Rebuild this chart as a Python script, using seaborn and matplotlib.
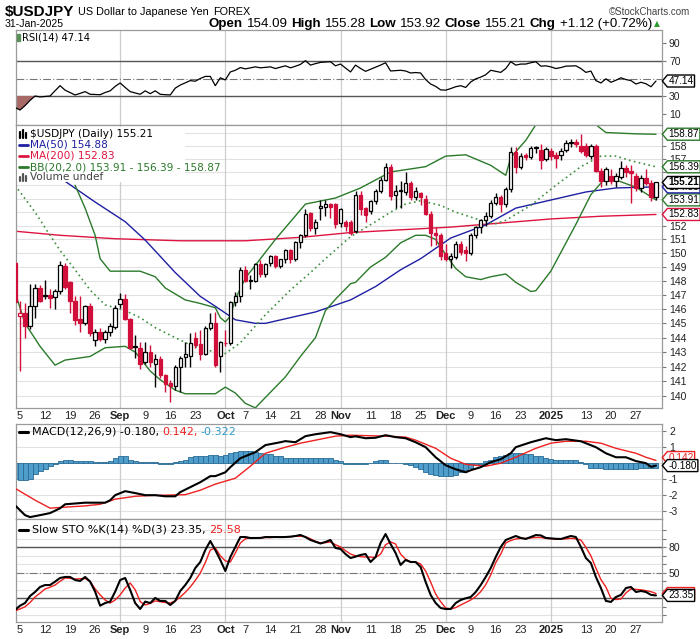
import numpy as np
import pandas as pd
import matplotlib
matplotlib.use("Agg")
import matplotlib.pyplot as plt
from matplotlib.path import Path
from matplotlib.lines import Line2D
from matplotlib.patches import Rectangle
from matplotlib.ticker import FixedLocator, NullLocator
from matplotlib import font_manager as fm
import seaborn as sns

# ---------------------------------------------------------------- data
open_ = [149.3, 145.5, 145.7, 144.8, 146.2, 147.5, 146.9, 147.0, 146.85, 147.25,
         149.1, 147.9, 146.6, 145.3, 145.0, 146.2, 143.85, 144.4, 143.9, 144.4,
         144.75, 146.35, 146.7, 145.3, 143.35, 143.3, 142.35, 143.0, 142.2, 142.5,
         141.4, 140.85, 140.7, 142.0, 142.65, 142.75, 143.95, 143.55, 142.9, 144.7,
         145.0, 142.75, 143.65, 143.6, 146.5, 146.9, 148.8, 148.0, 148.0, 149.2,
         148.5, 149.3, 149.8, 149.1, 149.55, 150.2, 149.55, 150.8, 151.3, 152.95,
         151.8, 153.3, 153.35, 153.6, 153.6, 152.2, 152.3, 152.3, 151.6, 154.3,
         153.3, 153.1, 153.8, 154.6, 155.4, 156.4, 154.3, 154.6, 154.5, 155.2,
         154.1, 154.4, 154.0, 152.9, 151.5, 151.3, 150.0, 149.6, 149.7, 150.7,
         150.2, 150.0, 151.3, 151.9, 152.4, 152.7, 153.7, 154.1, 153.6, 154.7,
         157.5, 156.4, 157.3, 157.1, 157.8, 157.7, 156.95, 157.6, 157.3, 157.3,
         157.7, 158.2, 158.3, 158.0, 158.0, 157.2, 158.0, 156.1, 155.3, 155.7,
         155.3, 155.6, 156.3, 156.05, 155.7, 154.8, 155.55, 155.2, 154.09]
high = [149.5, 146.6, 146.4, 147.8, 147.8, 147.7, 148.1, 147.4, 147.4, 149.4,
        149.3, 148.0, 146.9, 146.9, 146.3, 146.45, 144.6, 144.7, 144.5, 145.0,
        146.3, 147.15, 147.1, 145.4, 144.2, 143.7, 143.7, 143.5, 142.9, 142.7,
        141.5, 141.1, 142.1, 142.7, 143.7, 144.35, 144.4, 144.5, 144.8, 145.7,
        145.8, 143.8, 144.5, 146.6, 147.2, 149.0, 149.1, 148.4, 149.3, 149.5,
        149.3, 149.9, 149.9, 149.6, 150.3, 150.3, 150.9, 151.4, 153.2, 153.0,
        152.5, 153.9, 153.9, 153.7, 153.7, 153.3, 152.4, 152.4, 154.6, 154.6,
        153.4, 153.9, 154.7, 155.6, 156.7, 156.6, 155.0, 155.3, 156.0, 155.3,
        154.9, 154.5, 154.3, 153.1, 151.9, 151.5, 150.7, 150.0, 150.9, 150.9,
        150.5, 151.5, 152.0, 152.5, 153.0, 153.9, 154.4, 154.3, 154.9, 157.9,
        157.9, 157.4, 157.4, 158.0, 158.0, 158.1, 157.9, 157.8, 157.5, 157.8,
        158.4, 158.5, 158.5, 158.9, 158.2, 158.1, 158.1, 156.3, 156.4, 156.2,
        155.9, 156.8, 156.5, 156.5, 155.9, 155.8, 156.2, 155.4, 155.28]
low = [146.4, 141.7, 144.0, 144.6, 145.4, 146.5, 146.7, 146.1, 146.0, 147.1,
       147.4, 145.7, 144.9, 144.4, 144.9, 144.1, 143.4, 143.8, 143.6, 144.1,
       144.6, 146.1, 145.2, 143.2, 142.6, 141.85, 142.2, 142.0, 140.6, 141.2,
       140.3, 139.6, 140.4, 140.3, 142.0, 142.0, 143.3, 142.45, 142.8, 144.5,
       142.0, 141.6, 143.4, 143.5, 146.2, 146.5, 147.9, 147.4, 147.9, 148.3,
       148.3, 149.1, 148.9, 148.9, 149.3, 149.3, 149.4, 150.4, 151.2, 151.6,
       151.4, 152.4, 152.7, 152.6, 151.8, 151.9, 151.6, 151.3, 151.5, 152.8,
       152.3, 152.9, 153.6, 154.4, 155.3, 153.9, 153.3, 153.3, 154.3, 153.9,
       153.9, 153.5, 152.8, 150.5, 150.6, 149.5, 149.4, 148.9, 149.6, 149.9,
       149.4, 149.9, 151.1, 151.5, 152.0, 152.6, 153.5, 153.0, 153.4, 154.5,
       155.9, 156.2, 156.9, 157.0, 157.4, 156.2, 156.8, 156.9, 156.3, 156.9,
       157.5, 157.9, 157.9, 157.4, 157.1, 157.0, 156.0, 154.9, 155.0, 155.1,
       154.9, 155.5, 155.6, 153.7, 154.6, 154.5, 155.0, 153.8, 153.92]
close = [146.5, 145.75, 144.8, 146.2, 147.5, 146.6, 147.0, 146.8, 147.25, 149.15,
         147.6, 146.6, 145.25, 145.05, 146.2, 144.3, 144.4, 143.9, 144.4, 144.8,
         146.05, 146.75, 145.3, 143.3, 143.4, 142.2, 143.0, 142.3, 142.5, 141.4,
         140.8, 140.65, 142.0, 142.6, 142.85, 143.65, 143.5, 142.9, 144.7, 145.0,
         142.1, 143.7, 143.6, 146.5, 146.9, 148.75, 148.0, 148.1, 149.2, 148.5,
         149.2, 149.8, 149.1, 149.55, 150.2, 149.55, 150.8, 151.3, 152.9, 151.8,
         152.3, 153.45, 153.6, 153.4, 152.1, 153.2, 152.0, 151.5, 154.3, 153.2,
         152.8, 153.8, 154.6, 155.4, 156.4, 154.2, 154.6, 154.65, 155.2, 154.1,
         154.6, 154.1, 152.9, 151.5, 151.3, 149.8, 149.6, 149.8, 150.7, 150.1,
         150.0, 151.3, 151.9, 152.4, 152.7, 153.7, 154.1, 153.6, 154.7, 157.5,
         156.4, 157.2, 157.1, 157.8, 157.9, 156.9, 157.75, 157.2, 157.05, 157.6,
         158.2, 158.3, 158.1, 157.6, 157.3, 158.0, 156.1, 155.3, 156.2, 155.3,
         155.7, 156.3, 156.0, 155.95, 154.8, 155.55, 155.2, 154.1, 155.21]

# overlays (trading-day number, value)
ma50_day = [10, 16, 22, 26, 32, 37, 40, 44, 48, 50, 55, 60, 67, 72, 77, 81, 87, 94, 100, 107, 114, 120, 128]
ma50_val = [155.3, 153.75, 152.3, 150.95, 148.6, 146.9, 146.2, 145.25, 145.0, 145.0, 145.4, 145.8,
            146.65, 147.6, 148.8, 149.6, 151.1, 152.06, 153.3, 153.9, 154.5, 154.8, 154.88]
ma200_day = [0, 9, 20, 33, 46, 57, 67, 77, 87, 97, 107, 117, 128]
ma200_val = [151.6, 151.3, 151.05, 150.9, 150.9, 151.15, 151.5, 151.7, 151.9, 152.2, 152.5, 152.7, 152.83]
bbu_day = [12, 14, 16, 17, 19, 25, 28, 30, 34, 37, 40, 41, 42, 43, 44, 46, 52, 58, 64, 69, 75, 82,
           86, 90, 95, 98, 99, 102, 104, 110, 116, 118, 124, 128]
bbu_val = [155.0, 153.3, 151.3, 149.6, 148.7, 148.7, 148.3, 147.5, 146.65, 146.4, 146.1, 145.4,
           145.1, 145.5, 146.7, 148.2, 151.0, 153.6, 154.05, 154.8, 156.0, 156.4, 157.2, 157.3,
           156.5, 155.75, 157.1, 158.4, 159.6, 160.3, 159.6, 159.0, 158.9, 158.87]
bbm_day = [0, 4, 7, 9, 12, 15, 18, 22, 25, 28, 32, 35, 38, 42, 45, 50, 55, 59, 62, 67, 72, 75, 78,
           81, 85, 88, 93, 96, 98, 103, 108, 113, 117, 120, 123, 128]
bbm_val = [155.0, 153.0, 151.3, 150.2, 148.8, 147.35, 146.3, 145.9, 145.4, 144.7, 144.0, 143.5,
           143.15, 142.9, 143.65, 145.6, 147.35, 148.6, 149.6, 151.2, 152.3, 153.0, 153.6, 153.85,
           153.5, 153.0, 152.4, 152.15, 152.4, 153.5, 155.0, 156.4, 157.2, 157.2, 156.85, 156.39]
bbl_day = [0, 2, 5, 8, 10, 15, 18, 22, 24, 27, 29, 32, 34, 40, 42, 44, 46, 48, 50, 54, 57, 60, 62,
           64, 67, 68, 71, 74, 77, 80, 82, 84, 86, 88, 90, 93, 95, 98, 100, 103, 104, 107, 112,
           115, 118, 120, 124, 128]
bbl_val = [147.2, 145.0, 143.4, 142.1, 142.45, 142.7, 143.3, 143.4, 143.0, 141.7, 141.1, 140.4,
           140.15, 140.15, 140.6, 140.2, 139.5, 139.2, 139.9, 141.3, 142.7, 144.0, 145.9, 146.7,
           147.8, 147.9, 149.0, 149.7, 150.75, 151.3, 151.3, 151.0, 149.9, 148.9, 148.3, 148.1,
           148.3, 148.5, 147.9, 147.25, 147.3, 148.7, 152.1, 154.3, 155.6, 155.4, 154.85, 153.91]

rsi = [17, 14, 19, 25, 30, 29, 29.5, 30, 36, 41.8, 36.7, 34, 31.2, 33, 35, 32, 31.8, 31.5, 34, 35.9,
       41, 44.9, 39.8, 35, 33.5, 32, 35.9, 32.7, 35.9, 32, 31.5, 31.2, 39, 42.5, 45, 47.6, 46.9, 50,
       52.4, 52.4, 41.8, 50.8, 48.4, 57.5, 59.4, 62.5, 61, 62.2, 63.3, 62.2, 62.8, 63.3, 61.4, 63,
       64.5, 62.2, 64, 66.1, 70.4, 65.3, 67, 68.4, 68.8, 69.2, 64.5, 66.5, 62, 57.5, 65.3, 61.5,
       58.2, 60.6, 63, 65.3, 68, 58.6, 59, 59.4, 58.6, 56.3, 56.8, 56.3, 48.8, 43.7, 41, 37, 36.7,
       38.5, 40.6, 41.8, 39.8, 46, 49.6, 51.6, 54.3, 59.4, 58.2, 57, 61.4, 69.2, 65.3, 66.5, 66.5,
       68, 69.2, 64.1, 64.5, 63.3, 61.4, 62.5, 64.1, 64.3, 64.5, 61.4, 57, 58.5, 47.6, 44.9, 49.6,
       45.7, 48, 50.8, 48.8, 47.6, 43.7, 45.7, 44, 40.6, 47.14]

macd_day = [0, 2, 3, 5, 7, 9, 10, 12, 14, 16, 18, 19, 20, 22, 24, 26, 28, 30, 32, 33, 35, 37, 39,
            40, 42, 43, 45, 48, 50, 53, 54, 56, 58, 60, 63, 65, 67, 68, 70, 72, 74, 76, 78, 80, 82,
            84, 86, 88, 90, 91, 93, 95, 97, 99, 100, 103, 106, 108, 110, 113, 116, 118, 120, 122,
            124, 126, 127, 128]
macd_val = [-2.66, -3.28, -3.4, -3.28, -3.15, -2.85, -2.6, -2.55, -2.5, -2.5, -2.5, -2.35, -2.03,
            -1.78, -1.9, -2.03, -2.03, -2.1, -2.1, -1.84, -1.53, -1.22, -0.84, -0.84, -0.6, -0.28,
            0.28, 0.66, 1.1, 1.28, 1.35, 1.28, 1.66, 1.78, 1.91, 1.78, 1.6, 1.65, 1.53, 1.56, 1.72,
            1.6, 1.53, 1.28, 0.97, 0.34, -0.16, -0.41, -0.6, -0.47, -0.28, 0.03, 0.22, 0.59, 0.97,
            1.28, 1.53, 1.41, 1.47, 1.34, 0.97, 0.59, 0.34, 0.34, 0.1, -0.03, -0.26, -0.18]
signal_day = [0, 4, 7, 10, 14, 17, 20, 24, 27, 30, 34, 37, 40, 44, 47, 50, 54, 57, 60, 64, 67, 74,
              78, 80, 84, 87, 90, 94, 97, 100, 104, 107, 110, 114, 117, 120, 124, 126, 128]
signal_val = [-1.6, -2.34, -2.84, -2.78, -2.7, -2.6, -2.28, -2.1, -2.05, -2.03, -2.0, -1.72, -1.34,
              -0.97, -0.22, 0.59, 0.97, 1.22, 1.41, 1.66, 1.72, 1.66, 1.6, 1.41, 0.9, 0.28, -0.1,
              -0.22, -0.03, 0.34, 0.9, 1.22, 1.34, 1.34, 1.22, 0.9, 0.59, 0.34, 0.142]
macd_hist = [-1.05, -1.1, -1.1, -1.0, -0.7, -0.55, -0.4, -0.22, -0.08, 0.1, 0.17, 0.2, 0.12, 0.12,
             0.12, 0.12, 0.02, 0.02, 0.02, 0.1, 0.27, 0.4, 0.4, 0.2, 0.12, 0.02, 0.02, 0.02, 0.02,
             -0.05, -0.05, -0.05, 0.05, 0.1, 0.2, 0.35, 0.4, 0.4, 0.45, 0.5, 0.5, 0.4, 0.5, 0.58,
             0.68, 0.75, 0.75, 0.75, 0.68, 0.6, 0.55, 0.52, 0.45, 0.4, 0.3, 0.27, 0.27, 0.27, 0.27,
             0.27, 0.27, 0.27, 0.27, 0.27, 0.15, 0.08, -0.05, -0.08, -0.08, -0.08, -0.05, 0.0, 0.1,
             0.15, 0.15, 0.0, -0.03, -0.03, -0.08, -0.12, -0.28, -0.4, -0.6, -0.7, -0.8, -0.85,
             -0.85, -0.85, -0.75, -0.6, -0.45, -0.3, -0.15, -0.05, 0.1, 0.2, 0.35, 0.42, 0.5, 0.58,
             0.6, 0.6, 0.55, 0.52, 0.45, 0.4, 0.32, 0.25, 0.2, 0.2, 0.2, 0.2, 0.2, 0.05, -0.1, -0.3,
             -0.3, -0.3, -0.4, -0.4, -0.4, -0.4, -0.4, -0.38, -0.38, -0.36, -0.33, -0.32, -0.322]

sto_k = [6.2, 11.3, 14.4, 22.7, 27.4, 33.3, 35.6, 35.6, 39.6, 43.9, 45.1, 45.1, 41.5, 40.4, 45.1,
         39.6, 27.8, 11.3, 14.4, 16.1, 27.8, 41.5, 43.9, 29.8, 14.4, 7.4, 16.1, 14.4, 20.4, 16.9,
         16.9, 12.1, 16.9, 28.6, 35.6, 43.9, 55.6, 62.7, 76.8, 87.4, 76.8, 65.1, 52.1, 68.6, 80.4,
         92.1, 92.1, 90.9, 91, 91, 92.1, 92, 92.1, 92, 92.1, 92.5, 93.3, 94.5, 92, 88.6, 86.5,
         84.5, 86.3, 88.6, 79.2, 78, 72.1, 67.4, 69, 71, 72.1, 62.7, 68.6, 85.1, 95.6, 83.9, 73.3,
         59.2, 65.1, 62.7, 62.7, 56.8, 39.2, 24, 14.4, 8.6, 7.4, 7.4, 14.4, 18, 20, 21.5, 27.4,
         35.6, 45.1, 55.6, 68.6, 80.4, 88.6, 91, 93.3, 91, 89.8, 92.1, 94.4, 94, 91, 90.5, 90,
         89.8, 91.5, 93.3, 92.1, 80.4, 67.4, 61.5, 45.1, 32.1, 16.9, 15.7, 21.5, 24, 32.1, 33.3,
         27.4, 28.6, 27.4, 24, 23.35]
sto_d = [5, 7.5, 10, 15, 21.5, 26, 31, 33, 35.6, 40, 43.9, 43.5, 42.7, 43, 43.3, 40, 31, 24, 18,
         14.4, 18, 24, 32, 38, 30, 16.1, 12.1, 14, 16.9, 16, 15, 14.4, 17, 21.5, 27, 33.3, 41, 49.8,
         62, 76.8, 79.2, 70, 64, 62.7, 73.3, 85, 90, 91, 91, 91, 91.5, 91.5, 92, 92, 92, 92.5, 93,
         93, 92.5, 90, 87, 85.1, 85.5, 86.3, 83, 80.4, 76, 72.1, 70, 69, 68.6, 68.5, 68, 72, 83,
         86.3, 83.9, 72, 66, 62.7, 62.7, 60.4, 52, 39.2, 25, 16, 8.6, 7.4, 9, 12.1, 15, 18, 22,
         27.8, 36, 47.4, 62, 72, 85.1, 88, 89.8, 90.5, 90.5, 91, 91.5, 91.5, 90.5, 90, 89.5, 89.5,
         90, 90.5, 90, 88.6, 80, 70, 55.6, 42, 33.3, 20, 18.5, 19.2, 26.3, 31, 30.5, 30, 29, 27.8,
         25.58]

week_dates = ["2024-08-05", "2024-08-12", "2024-08-19", "2024-08-26", "2024-09-02", "2024-09-09",
              "2024-09-16", "2024-09-23", "2024-10-01", "2024-10-07", "2024-10-14", "2024-10-21",
              "2024-10-28", "2024-11-01", "2024-11-11", "2024-11-18", "2024-11-25", "2024-12-02",
              "2024-12-09", "2024-12-16", "2024-12-23", "2025-01-02", "2025-01-13", "2025-01-20",
              "2025-01-27"]
week_labels = ["5", "12", "19", "26", "Sep", "9", "16", "23", "Oct", "7", "14", "21", "28", "Nov",
               "11", "18", "25", "Dec", "9", "16", "23", "2025", "13", "20", "27"]
month_labels = {"Sep", "Oct", "Nov", "Dec", "2025"}

# ---------------------------------------------------------------- style
sns.set_theme(style="white")
_names = {f.name for f in fm.fontManager.ttflist}
SANS = "Liberation Sans" if "Liberation Sans" in _names else "DejaVu Sans"
plt.rcParams["font.family"] = [SANS, "DejaVu Sans"]

RED = "#d0103a"
MA200C = "#dd1540"
NAVY = "#1f1fa3"
GREEN = "#2b7a2b"
FRAME = "#9a9a9a"
GRID = "#e2e2e2"
VGRID = "#cdcdcd"
SIGRED = "#ee2020"
HISTF = "#4f9dca"
HISTE = "#2a6b96"

skip = {"2024-12-25", "2025-01-01"}
dates = [d for d in pd.bdate_range("2024-08-02", "2025-01-31") if d.strftime("%Y-%m-%d") not in skip]
days = np.arange(len(dates))
date_pos = {d.strftime("%Y-%m-%d"): i for i, d in enumerate(dates)}
week_pos = [date_pos[d] for d in week_dates]
month_pos = [i for i in range(1, len(dates)) if dates[i].month != dates[i - 1].month]

W, H = 700, 639
fig = plt.figure(figsize=(W / 100, H / 100), dpi=100)
fig.patch.set_facecolor("white")


def fax(top, bottom):
    return fig.add_axes([16 / W, 1 - bottom / H, 646 / W, (bottom - top) / H])


ax_rsi = fax(30, 125)
ax = fax(125, 408)
ax_macd = fax(424, 519)
ax_sto = fax(519, 622)

for a in (ax_rsi, ax, ax_macd, ax_sto):
    a.set_facecolor("white")
    a.set_xlim(0.2, 129.2)
    for s in a.spines.values():
        s.set_color(FRAME)
        s.set_linewidth(0.9)
    for m in month_pos:
        a.axvline(m, color=VGRID, lw=0.9, zorder=0.5)
    a.yaxis.tick_right()
    a.tick_params(axis="y", which="both", direction="out", length=3, width=0.8, color="#777777",
                  labelsize=7.5, pad=2, labelright=True, labelleft=False, labelcolor="#222222")
    a.tick_params(axis="x", length=0, labelsize=8, pad=2.5, labelcolor="#222222")
    a.set_xlabel("")
    a.set_ylabel("")


def tag_style(x0, y0, width, height, mutation_size):
    pad = 0.1 * mutation_size
    x0 -= pad
    y0 -= pad
    width += 2 * pad
    height += 2 * pad
    tip = height * 0.42
    verts = [(x0 - tip, y0 + height / 2), (x0, y0), (x0 + width, y0), (x0 + width, y0 + height),
             (x0, y0 + height), (x0 - tip, y0 + height / 2)]
    return Path(verts, [Path.MOVETO] + [Path.LINETO] * 4 + [Path.CLOSEPOLY])


def tag(a, value, text, color, bold=False, tc="black"):
    a.annotate(text, xy=(1.0, value), xycoords=("axes fraction", "data"), xytext=(4.6, 0),
               textcoords="offset points", va="center", ha="left", fontsize=7.2, color=tc,
               fontweight="bold" if bold else "normal", annotation_clip=False, zorder=10,
               bbox=dict(boxstyle=tag_style, fc="white", ec=color, lw=1.0))


# ---------------------------------------------------------------- RSI
rsi_a = np.array(rsi, dtype=float)
ax_rsi.set_ylim(-3.1, 105.4)
ax_rsi.axhline(70, color="#555555", lw=1.0, zorder=1)
ax_rsi.axhline(30, color="#555555", lw=1.0, zorder=1)
ax_rsi.axhline(50, color="#777777", lw=0.8, ls=(0, (7, 2, 1, 2)), zorder=1)
ax_rsi.fill_between(days, rsi_a, 30, where=rsi_a < 30, interpolate=True, color="#a86a66", lw=0, zorder=2)
sns.lineplot(x=days, y=rsi_a, ax=ax_rsi, color="black", lw=0.9, estimator=None, zorder=3)
ax_rsi.yaxis.set_major_locator(FixedLocator([10, 30, 50, 70, 90]))
ax_rsi.set_yticklabels(["10", "30", "", "70", "90"])
ax_rsi.set_xticks([])
tag(ax_rsi, rsi[-1], f"{rsi[-1]:.2f}", "black")

# ---------------------------------------------------------------- price
ax.set_yscale("log")
ax.set_ylim(139.19, 159.58)
price_ticks = list(range(140, 160))
for p in price_ticks:
    ax.axhline(p, color=GRID, lw=0.8, zorder=0.4)
ax.yaxis.set_major_locator(FixedLocator(price_ticks))
ax.yaxis.set_minor_locator(NullLocator())
ax.set_yticklabels(["" if 153 <= p <= 156 or p == 159 else str(p) for p in price_ticks])

sns.lineplot(x=ma200_day, y=ma200_val, ax=ax, color=MA200C, lw=1.0, estimator=None, zorder=2)
sns.lineplot(x=ma50_day, y=ma50_val, ax=ax, color=NAVY, lw=1.0, estimator=None, zorder=2)
sns.lineplot(x=bbu_day, y=bbu_val, ax=ax, color=GREEN, lw=1.0, estimator=None, zorder=2)
sns.lineplot(x=bbl_day, y=bbl_val, ax=ax, color=GREEN, lw=1.0, estimator=None, zorder=2)
sns.lineplot(x=bbm_day, y=bbm_val, ax=ax, color="#3f8f3f", lw=1.2, ls=(0, (1, 2)), estimator=None, zorder=2)

O = np.array(open_)
Hh = np.array(high)
L = np.array(low)
C = np.array(close)
prevC = np.r_[O[0], C[:-1]]
edge = np.where(C >= prevC, "black", RED)
face = np.where(C >= O, "white", edge)
ax.vlines(days, L, Hh, colors=edge, linewidth=1.0, zorder=3)
ax.bar(days, np.maximum(np.abs(C - O), 0.05), bottom=np.minimum(O, C), width=0.68, color=face,
       edgecolor=edge, linewidth=0.9, zorder=4)
ax.set_xticks(week_pos, week_labels)
for t in ax.get_xticklabels():
    if t.get_text() in month_labels:
        t.set_fontweight("bold")
ax.set_xlim(0.2, 129.2)

tag(ax, bbu_val[-1], f"{bbu_val[-1]:.2f}", GREEN)
tag(ax, bbm_val[-1], f"{bbm_val[-1]:.2f}", GREEN)
tag(ax, bbl_val[-1], f"{bbl_val[-1]:.2f}", GREEN)
tag(ax, ma200_val[-1], f"{ma200_val[-1]:.2f}", MA200C)
tag(ax, ma50_val[-1], f"{ma50_val[-1]:.2f}", NAVY)
tag(ax, close[-1], f"{close[-1]:.2f}", "black", bold=True)

# ---------------------------------------------------------------- MACD
ax_macd.set_ylim(-3.52, 2.42)
for v in range(-3, 3):
    ax_macd.axhline(v, color=GRID, lw=0.8, zorder=0.4)
ax_macd.bar(days, macd_hist, width=1.0, color=HISTF, edgecolor=HISTE, linewidth=0.6, zorder=2)
sns.lineplot(x=signal_day, y=signal_val, ax=ax_macd, color=SIGRED, lw=1.0, estimator=None, zorder=3)
sns.lineplot(x=macd_day, y=macd_val, ax=ax_macd, color="black", lw=1.5, estimator=None, zorder=4)
ax_macd.yaxis.set_major_locator(FixedLocator([-3, -2, -1, 0, 1, 2]))
ax_macd.set_yticklabels(["-3", "-2", "-1", "", "1", "2"])
ax_macd.set_xticks([])
ax_macd.set_xlim(0.2, 129.2)
tag(ax_macd, signal_val[-1] + 0.18, f"{signal_val[-1]:.3f}", SIGRED, tc=SIGRED)
tag(ax_macd, macd_val[-1], f"{macd_val[-1]:.3f}", "black")

# ---------------------------------------------------------------- Slow STO
ax_sto.set_ylim(-7.9, 113.3)
for v in range(0, 101, 10):
    ax_sto.axhline(v, color=GRID, lw=0.8, zorder=0.4)
ax_sto.axhline(80, color="#555555", lw=1.0, zorder=1)
ax_sto.axhline(20, color="#555555", lw=1.0, zorder=1)
ax_sto.axhline(50, color="#777777", lw=0.8, ls=(0, (7, 2, 1, 2)), zorder=1)
sns.lineplot(x=days, y=sto_d, ax=ax_sto, color=SIGRED, lw=1.0, estimator=None, zorder=3)
sns.lineplot(x=days, y=sto_k, ax=ax_sto, color="black", lw=1.5, estimator=None, zorder=4)
ax_sto.yaxis.set_major_locator(FixedLocator(list(range(0, 101, 10))))
ax_sto.set_yticklabels(["50" if v == 50 else "80" if v == 80 else "" for v in range(0, 101, 10)])
ax_sto.set_xticks(week_pos, week_labels)
for t in ax_sto.get_xticklabels():
    if t.get_text() in month_labels:
        t.set_fontweight("bold")
ax_sto.set_xlim(0.2, 129.2)
tag(ax_sto, sto_d[-1], f"{sto_d[-1]:.2f}", SIGRED, tc=SIGRED)
tag(ax_sto, sto_k[-1], f"{sto_k[-1]:.2f}", "black")

# ---------------------------------------------------------------- texts
renderer = fig.canvas.get_renderer()


def seq_text(x_px, y_px, parts, size, family, align="left", gap=3.0):
    objs = []
    x = 0.0
    for s, color, weight in parts:
        t = fig.text(0, 1 - y_px / H, s, color=color, fontsize=size, fontweight=weight,
                     family=family, va="center", ha="left", zorder=5)
        bb = t.get_window_extent(renderer=renderer)
        objs.append((t, x))
        x += bb.width + gap
    total = x - gap
    x0 = x_px if align == "left" else x_px - total
    for t, xo in objs:
        t.set_x((x0 + xo) / W)
    return x0 + total


def fline(x0, x1, y, color, lw=2.0):
    fig.add_artist(Line2D([x0 / W, x1 / W], [1 - y / H, 1 - y / H], color=color, lw=lw,
                          transform=fig.transFigure, zorder=6))


end = seq_text(5, 12, [("$USDJPY", "black", "bold")], 11, SANS)
seq_text(end + 4, 12, [("US Dollar to Japanese Yen", "black", "normal"), ("FOREX", "black", "normal")],
         7.8, SANS, gap=4)
fig.text(690 / W, 1 - 12 / H, "\u00a9StockCharts.com", ha="right", va="center", fontsize=7,
         color="#444444", family=SANS)
fig.text(5 / W, 1 - 24 / H, "31-Jan-2025", ha="left", va="center", fontsize=7.6, color="black",
         family=SANS)
seq_text(652, 24, [("Open", "black", "bold"), ("154.09", "black", "normal"),
                   ("High", "black", "bold"), ("155.28", "black", "normal"),
                   ("Low", "black", "bold"), ("153.92", "black", "normal"),
                   ("Close", "black", "bold"), ("155.21", "black", "normal"),
                   ("Chg", "black", "bold"), ("+1.12 (+0.72%)", "black", "normal")],
         9.6, SANS, align="right", gap=3.8)
fig.text(657 / W, 1 - 24 / H, "\u25b2", ha="center", va="center", fontsize=5.5, color="#2a9a2a",
         family="DejaVu Sans")

# RSI legend
seq_text(22, 37, [("RSI(14) 47.14", "black", "normal")], 7.2, "DejaVu Sans")
fig.add_artist(Rectangle((17 / W, 1 - 41 / H), 3 / W, 7 / H, transform=fig.transFigure,
                         color="#5a8f5a", zorder=6))

# price legend box
fig.add_artist(Rectangle((17 / W, 1 - 182 / H), 168 / W, 55 / H, transform=fig.transFigure,
                         facecolor="white", edgecolor="none", zorder=1.5))
seq_text(30, 134, [("$USDJPY (Daily) 155.21", "black", "normal")], 7.6, "DejaVu Sans")
seq_text(30, 145, [("MA(50) 154.88", NAVY, "normal")], 7.6, "DejaVu Sans")
seq_text(30, 156, [("MA(200) 152.83", MA200C, "normal")], 7.6, "DejaVu Sans")
seq_text(30, 167, [("BB(20,2.0) 153.91 - 156.39 - 158.87", GREEN, "normal")], 7.6, "DejaVu Sans")
seq_text(30, 177, [("Volume undef", "#444444", "normal")], 7.6, "DejaVu Sans")
fline(19, 28, 145, NAVY)
fline(19, 28, 156, MA200C)
fline(19, 28, 167, GREEN)
for xx, hh in ((20, 6), (23, 8), (26, 5)):
    fig.add_artist(Line2D([xx / W, xx / W], [1 - 138 / H, 1 - (138 - hh) / H], color="black", lw=1.6,
                          transform=fig.transFigure, zorder=6))
for xx, hh in ((20, 4), (23, 7), (26, 5)):
    fig.add_artist(Line2D([xx / W, xx / W], [1 - 181 / H, 1 - (181 - hh) / H], color="#555555", lw=1.6,
                          transform=fig.transFigure, zorder=6))

# MACD legend
fline(19, 28, 432, "black", 2.2)
seq_text(32, 432, [("MACD(12,26,9) -0.180,", "black", "normal"), ("0.142,", SIGRED, "normal"),
                   ("-0.322", "#3399cc", "normal")], 8.0, "DejaVu Sans", gap=3)
# STO legend
fline(19, 28, 530, "black", 2.2)
seq_text(32, 530, [("Slow STO %K(14) %D(3) 23.35,", "black", "normal"), ("25.58", SIGRED, "normal")],
         8.0, "DejaVu Sans", gap=3)

fig.savefig("out.png", dpi=100, facecolor="white")
